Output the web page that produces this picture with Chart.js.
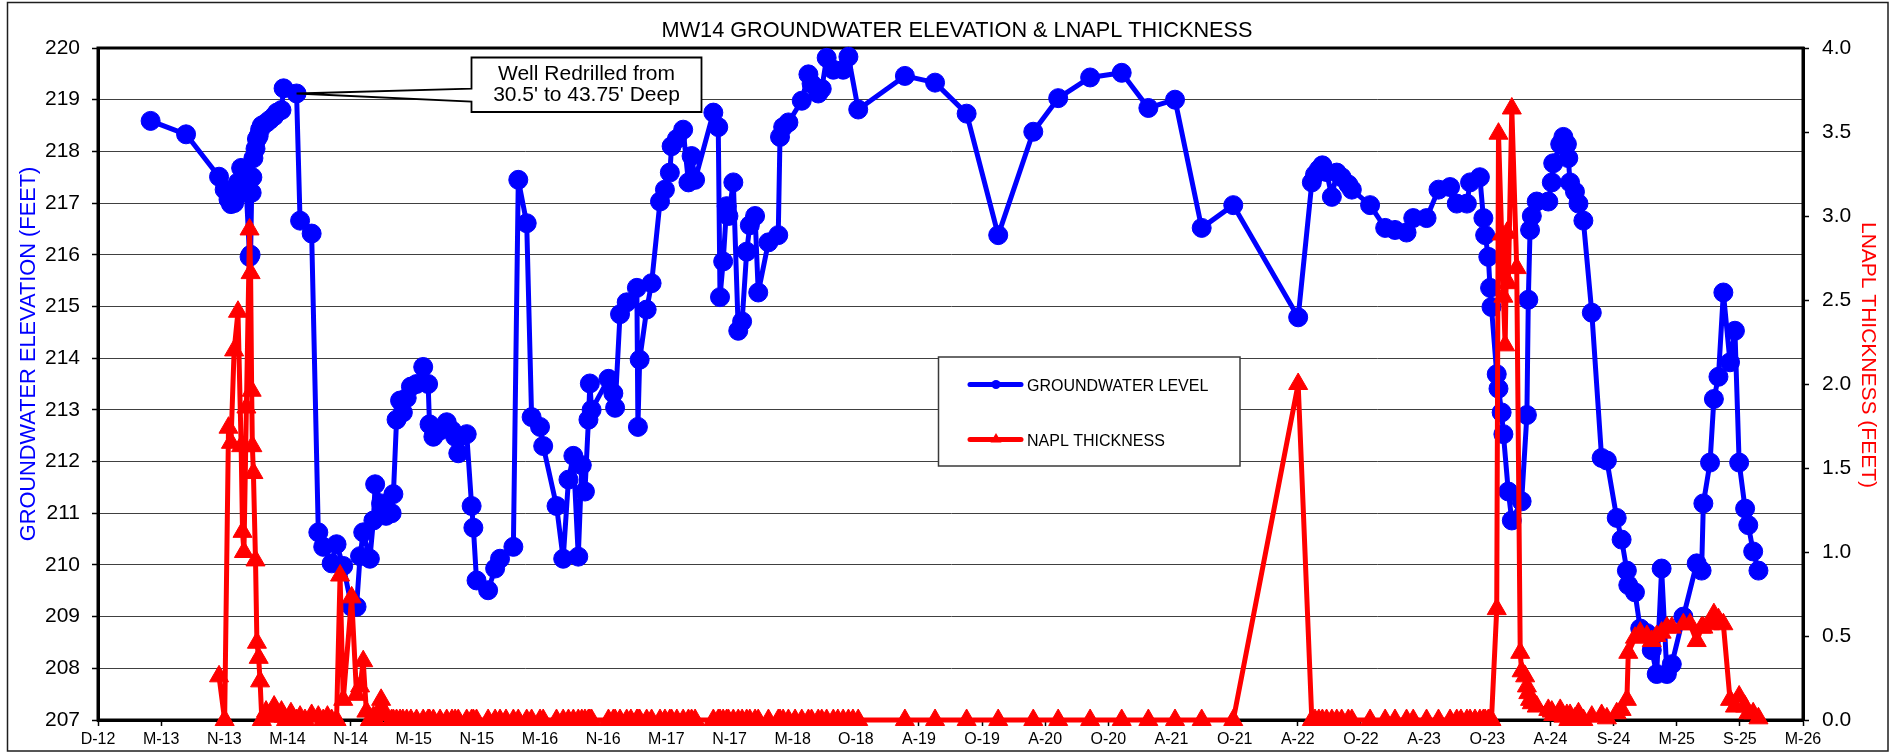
<!DOCTYPE html>
<html>
<head>
<meta charset="utf-8">
<title>MW14 Groundwater Elevation &amp; LNAPL Thickness</title>
<script src="https://cdn.jsdelivr.net/npm/chart.js@4.4.1/dist/chart.umd.min.js"></script>
<style>
  html, body { margin: 0; padding: 0; background: #ffffff; }
  canvas { display: block; }
</style>
</head>
<body>
<canvas id="mw14" width="1892" height="752"></canvas>
<script>
// ---- Monitoring record for well MW14 (one row per gauging event) ----
const sampleDates = [
  '2013-04-30','2013-08-09','2013-11-11','2013-11-27','2013-12-08','2013-12-15','2013-12-24','2014-01-04','2014-01-13','2014-01-17',
  '2014-01-21','2014-01-28','2014-02-06','2014-02-09','2014-02-12','2014-02-14','2014-02-17','2014-02-23','2014-02-27','2014-03-04',
  '2014-03-08','2014-03-13','2014-03-25','2014-04-05','2014-04-17','2014-04-25','2014-05-08','2014-05-14','2014-05-21','2014-06-04',
  '2014-06-20','2014-06-30','2014-07-14','2014-08-02','2014-08-21','2014-09-04','2014-09-16','2014-09-28','2014-10-12','2014-10-22',
  '2014-10-31','2014-11-24','2014-12-08','2014-12-18','2014-12-27','2015-01-05','2015-01-15','2015-01-25','2015-01-30','2015-02-09',
  '2015-02-16','2015-03-02','2015-03-18','2015-03-23','2015-04-01','2015-04-11','2015-04-19','2015-04-30','2015-05-12','2015-05-28',
  '2015-06-16','2015-06-30','2015-07-04','2015-07-15','2015-08-03','2015-08-22','2015-09-06','2015-09-15','2015-09-24','2015-10-18',
  '2015-11-01','2015-11-06','2015-11-15','2015-12-18','2016-01-07','2016-01-21','2016-02-07','2016-02-28','2016-03-13','2016-04-06',
  '2016-04-20','2016-05-14','2016-05-23','2016-06-30','2016-07-19','2016-08-03','2016-08-17','2016-08-31','2016-09-10','2016-09-19',
  '2016-09-29','2016-10-03','2016-10-08','2016-11-25','2016-12-09','2016-12-14','2016-12-28','2017-01-16','2017-01-28','2017-02-14',
  '2017-02-17','2017-02-22','2017-03-14','2017-03-28','2017-04-21','2017-05-05','2017-05-19','2017-05-24','2017-06-08','2017-06-26',
  '2017-07-11','2017-07-20','2017-07-30','2017-09-20','2017-10-04','2017-10-09','2017-10-18','2017-10-28','2017-11-02','2017-11-16',
  '2017-11-30','2017-12-11','2017-12-24','2018-01-02','2018-01-17','2018-01-26','2018-02-24','2018-03-24','2018-03-29','2018-04-07',
  '2018-04-22','2018-05-11','2018-05-30','2018-06-18','2018-06-27','2018-07-16','2018-07-26','2018-08-09','2018-08-28','2018-09-10',
  '2018-09-25','2018-10-10','2018-10-23','2018-11-07','2019-03-20','2019-06-14','2019-09-12','2019-12-11','2020-03-20','2020-05-30',
  '2020-08-29','2020-11-27','2021-02-11','2021-04-28','2021-07-13','2021-10-11','2022-04-14','2022-05-23','2022-06-01','2022-06-12',
  '2022-06-22','2022-07-04','2022-07-19','2022-08-02','2022-08-16','2022-09-04','2022-09-14','2022-11-05','2022-12-18','2023-01-15',
  '2023-02-17','2023-03-08','2023-04-15','2023-05-19','2023-06-21','2023-07-10','2023-07-22','2023-08-08','2023-08-17','2023-08-31',
  '2023-09-14','2023-09-24','2023-09-29','2023-10-08','2023-10-13','2023-10-17','2023-11-01','2023-11-06','2023-11-15','2023-11-20',
  '2023-11-25','2023-11-30','2023-12-04','2023-12-14','2023-12-28','2024-01-07','2024-01-11','2024-01-21','2024-01-26','2024-01-30',
  '2024-02-04','2024-02-09','2024-02-23','2024-03-27','2024-04-06','2024-04-10','2024-04-30','2024-05-09','2024-05-19','2024-05-23',
  '2024-05-28','2024-06-11','2024-06-21','2024-07-05','2024-07-29','2024-08-26','2024-09-10','2024-10-08','2024-10-22','2024-11-06',
  '2024-11-10','2024-11-29','2024-12-14','2025-01-02','2025-01-16','2025-01-30','2025-02-13','2025-02-28','2025-03-14','2025-04-16',
  '2025-05-05','2025-05-24','2025-06-07','2025-06-12','2025-07-01','2025-07-12','2025-07-25','2025-08-08','2025-08-27','2025-09-10',
  '2025-09-22','2025-10-09','2025-10-18','2025-11-01','2025-11-16'
];

// Groundwater elevation, feet (null = not gauged)
const gwElevation = [
  218.59,218.33,217.51,217.26,217.07,216.98,217.00,217.40,217.68,217.45,
  217.30,217.20,215.96,216.00,217.20,217.50,217.87,218.05,218.24,218.30,
  218.42,218.50,218.55,218.61,218.68,218.75,218.80,219.22,null,null,
  219.12,216.66,null,216.41,210.63,210.35,null,210.03,210.40,null,
  209.98,209.19,209.19,210.17,210.63,null,210.12,210.86,211.56,null,
  211.19,210.95,211.00,211.37,212.81,213.18,212.95,213.23,213.45,213.50,
  213.83,213.50,212.72,212.48,212.60,212.76,212.60,212.48,212.16,212.53,
  211.14,210.72,209.70,209.51,209.93,210.12,null,210.35,217.45,216.61,
  212.86,212.67,212.30,211.14,210.12,211.65,212.11,210.16,211.93,211.42,
  212.81,213.51,213.00,213.60,213.32,213.04,214.85,215.08,null,215.36,
  212.67,213.97,214.94,215.45,217.03,217.26,217.59,218.10,218.24,218.42,
  217.40,217.91,217.45,218.75,218.47,215.18,215.87,216.94,216.75,217.40,
  214.53,214.71,216.06,216.57,216.75,215.27,216.24,216.38,218.28,218.47,
  218.56,null,218.98,219.49,219.31,219.12,219.21,219.81,219.58,null,
  219.58,219.83,null,218.81,219.46,219.33,218.73,216.38,218.38,219.03,
  219.43,219.52,218.84,219.00,216.52,216.96,214.79,217.40,217.55,217.65,
  217.73,217.60,217.12,217.59,217.50,217.36,217.26,216.96,216.52,216.48,
  216.43,216.71,216.71,217.26,217.31,216.99,null,216.99,217.40,null,
  217.50,216.71,216.38,215.96,215.36,214.99,213.69,213.41,212.95,212.53,
  null,null,211.42,210.86,null,null,211.23,null,212.90,215.13,
  216.48,216.75,217.03,217.03,217.40,217.77,218.14,218.28,218.14,217.87,
  217.40,217.22,216.99,216.66,214.88,212.07,212.02,210.91,210.49,209.89,
  209.61,209.47,208.77,208.68,208.35,207.89,209.93,207.89,208.08,209.00,
  null,210.03,209.89,211.19,211.98,213.21,213.64,215.27,213.92,214.53,
  211.98,211.09,210.77,210.26,209.89
];

// Measured LNAPL thickness, feet (null = not measured)
const lnaplThickness = [
  null,null,0.26,0,1.74,1.65,2.20,2.43,1.63,1.12,
  1.00,1.86,2.92,2.66,1.96,1.63,1.47,0.95,0.46,0.37,
  0.23,0,0.05,0.02,0.08,0.03,0.05,0.02,0,0.04,
  0,0.02,0,0.03,0.02,0,0.02,0,0,0.86,
  0.12,0.73,0.15,0.20,0.35,0.05,0,0.02,0,0.05,
  0.12,0.03,0,0,0,0,0,0,0,0,
  0,0,0,0,0,0,0,0,0,0,
  0,0,0,0,0,0,0,0,0,0,
  0,0,0,0,0,0,0,0,0,0,
  0,0,0,0,0,0,0,0,0,0,
  0,0,0,0,0,0,0,0,0,0,
  0,0,0,0,0,0,0,0,0,0,
  0,0,0,0,0,0,0,0,0,0,
  0,0,0,0,0,0,0,0,0,0,
  0,0,0,0,0,0,0,0,0,0,
  0,0,0,0,0,0,2.00,0,0,0,
  0,0,0,0,0,0,0,0,0,0,
  0,0,0,0,0,0,0,0,0,0,
  0,0,0,0,0,0,0.66,3.49,2.89,2.52,
  2.23,2.90,2.60,3.64,2.69,0.40,0.29,0.26,0.20,0.16,
  0.12,0.10,0.08,0.06,0.05,0.03,0.06,0.02,0.03,0,
  0.03,0.01,0.04,0,0.02,0.03,0.01,0.04,0.06,0.12,
  0.40,0.49,0.52,0.50,0.47,0.50,0.52,0.55,0.55,0.57,
  0.57,0.47,0.55,0.55,0.57,0.63,0.60,0.57,0.12,0.08,
  0.14,0.08,0.04,0.04,0.01
];

// Date axis: labels every 180 days starting 1 Dec 2012
const xTickLabels = ['D-12','M-13','N-13','M-14','N-14','M-15','N-15','M-16','N-16','M-17','N-17','M-18','O-18','A-19',
                     'O-19','A-20','O-20','A-21','O-21','A-22','O-22','A-23','O-23','A-24','S-24','M-25','S-25','M-26'];
const AXIS_START = '2012-12-01';
const TICK_DAYS = 180;

const CHART_TITLE = 'MW14 GROUNDWATER ELEVATION & LNAPL THICKNESS';
const LEFT_AXIS_TITLE = 'GROUNDWATER ELEVATION (FEET)';
const RIGHT_AXIS_TITLE = 'LNAPL THICKNESS (FEET)';
const GW_LABEL = 'GROUNDWATER LEVEL';
const NAPL_LABEL = 'NAPL THICKNESS';
const NOTE_LINES = ['Well Redrilled from', "30.5' to 43.75' Deep"];
const REDRILL_DATE = '2014-06-20';

// ---- helpers ----
const FONT = '"Liberation Sans", Arial, Helvetica, sans-serif';
const BLUE = '#0000FF';
const RED = '#FF0000';

function toUTC(s) {
  const [y, m, d] = s.split('-').map(Number);
  return Date.UTC(y, m - 1, d);
}
const START_MS = toUTC(AXIS_START);
function dayOf(s) { return (toUTC(s) - START_MS) / 86400000; }

function series(values) {
  const pts = [];
  sampleDates.forEach((d, i) => {
    if (values[i] !== null && values[i] !== undefined) pts.push({ x: dayOf(d), y: values[i] });
  });
  return pts;
}

const gwSeries = series(gwElevation);
const naplSeries = series(lnaplThickness);

// ---- decorations drawn straight onto the canvas ----
const chartDecor = {
  id: 'chartDecor',
  beforeDraw(chart) {
    const { ctx } = chart;
    ctx.save();
    ctx.fillStyle = '#ffffff';
    ctx.fillRect(0, 0, chart.width, chart.height);
    // outer frame
    ctx.strokeStyle = '#1e1e1e';
    ctx.lineWidth = 1.5;
    ctx.strokeRect(7.5, 2.5, 1880.5, 748.5);
    // title
    ctx.font = '21.7px ' + FONT;
    ctx.fillStyle = '#000';
    ctx.textAlign = 'center';
    ctx.textBaseline = 'alphabetic';
    ctx.fillText(CHART_TITLE, 957, 37);
    // left axis title (reads bottom to top)
    ctx.save();
    ctx.font = '21.8px ' + FONT;
    ctx.translate(35, 354);
    ctx.rotate(-Math.PI / 2);
    ctx.fillStyle = BLUE;
    ctx.fillText(LEFT_AXIS_TITLE, 0, 0);
    ctx.restore();
    // right axis title (reads top to bottom)
    ctx.save();
    ctx.font = '21px ' + FONT;
    ctx.translate(1862, 355);
    ctx.rotate(Math.PI / 2);
    ctx.fillStyle = RED;
    ctx.fillText(RIGHT_AXIS_TITLE, 0, 0);
    ctx.restore();
    ctx.restore();
  },
  beforeDatasetsDraw(chart) {
    const { ctx, chartArea: a } = chart;
    ctx.save();
    ctx.strokeStyle = '#000';
    ctx.lineWidth = 3;
    ctx.strokeRect(a.left, a.top, a.right - a.left, a.bottom - a.top);
    ctx.restore();
  },
  afterDatasetsDraw(chart) {
    const { ctx } = chart;
    const xs = chart.scales.x, ys = chart.scales.y;

    // legend box
    ctx.save();
    ctx.fillStyle = '#ffffff';
    ctx.fillRect(938.5, 357, 301.5, 109);
    ctx.strokeStyle = '#3a3a3a';
    ctx.lineWidth = 1.5;
    ctx.strokeRect(938.5, 357, 301.5, 109);
    ctx.lineCap = 'round';
    ctx.lineWidth = 5;
    ctx.strokeStyle = BLUE;
    ctx.beginPath(); ctx.moveTo(970, 384.5); ctx.lineTo(1021, 384.5); ctx.stroke();
    ctx.fillStyle = BLUE;
    ctx.beginPath(); ctx.arc(996, 384.5, 4.5, 0, Math.PI * 2); ctx.fill();
    ctx.strokeStyle = RED;
    ctx.beginPath(); ctx.moveTo(970, 439.5); ctx.lineTo(1021, 439.5); ctx.stroke();
    ctx.fillStyle = RED;
    ctx.beginPath(); ctx.moveTo(996, 433); ctx.lineTo(1001.5, 442.5); ctx.lineTo(990.5, 442.5); ctx.closePath(); ctx.fill();
    ctx.fillStyle = '#000';
    ctx.font = '16px ' + FONT;
    ctx.textAlign = 'left';
    ctx.textBaseline = 'alphabetic';
    ctx.fillText(GW_LABEL, 1027, 390.5);
    ctx.fillText(NAPL_LABEL, 1027, 445.5);
    ctx.restore();

    // callout pointing at the redrill event
    const idx = sampleDates.indexOf(REDRILL_DATE);
    const tipX = xs.getPixelForValue(dayOf(REDRILL_DATE));
    const tipY = ys.getPixelForValue(gwElevation[idx]);
    const bx0 = 471.5, by0 = 57.5, bx1 = 701.5, by1 = 112;
    ctx.save();
    ctx.beginPath();
    ctx.moveTo(bx0, by0);
    ctx.lineTo(bx1, by0);
    ctx.lineTo(bx1, by1);
    ctx.lineTo(bx0, by1);
    ctx.lineTo(bx0, 101.7);
    ctx.lineTo(tipX, tipY);
    ctx.lineTo(bx0, 88.7);
    ctx.closePath();
    ctx.fillStyle = '#ffffff';
    ctx.fill();
    ctx.strokeStyle = '#000';
    ctx.lineWidth = 1.8;
    ctx.lineJoin = 'miter';
    ctx.stroke();
    ctx.fillStyle = '#000';
    ctx.font = '21px ' + FONT;
    ctx.textAlign = 'center';
    ctx.textBaseline = 'alphabetic';
    ctx.fillText(NOTE_LINES[0], (bx0 + bx1) / 2, 79.5);
    ctx.fillText(NOTE_LINES[1], (bx0 + bx1) / 2, 100.5);
    ctx.restore();
  }
};

const tickFont = { family: FONT, size: 21 };

new Chart(document.getElementById('mw14'), {
  type: 'line',
  data: {
    datasets: [
      {
        label: GW_LABEL,
        data: gwSeries,
        yAxisID: 'y',
        borderColor: BLUE,
        backgroundColor: BLUE,
        borderWidth: 5,
        borderJoinStyle: 'round',
        borderCapStyle: 'round',
        pointStyle: 'circle',
        pointRadius: 9.5,
        pointBorderWidth: 1,
        pointBackgroundColor: BLUE,
        pointBorderColor: BLUE,
        tension: 0,
        fill: false,
        clip: false,
        order: 2
      },
      {
        label: NAPL_LABEL,
        data: naplSeries,
        yAxisID: 'y1',
        borderColor: RED,
        backgroundColor: RED,
        borderWidth: 5,
        borderJoinStyle: 'round',
        borderCapStyle: 'round',
        pointStyle: 'triangle',
        pointRadius: 11,
        pointBorderWidth: 1,
        pointBackgroundColor: RED,
        pointBorderColor: RED,
        tension: 0,
        fill: false,
        clip: false,
        order: 1
      }
    ]
  },
  options: {
    responsive: false,
    devicePixelRatio: 1,
    animation: false,
    events: [],
    layout: { padding: { top: 48, left: 0, right: 0, bottom: 0 } },
    plugins: {
      legend: { display: false },
      tooltip: { enabled: false },
      title: { display: false }
    },
    scales: {
      x: {
        type: 'linear',
        position: 'bottom',
        min: 0,
        max: TICK_DAYS * (xTickLabels.length - 1),
        afterBuildTicks(scale) {
          scale.ticks = xTickLabels.map((_, i) => ({ value: i * TICK_DAYS }));
        },
        afterFit(scale) { scale.height = 32; },
        ticks: {
          callback: (v, i) => xTickLabels[i],
          autoSkip: false,
          maxRotation: 0,
          minRotation: 0,
          padding: 4,
          color: '#000',
          font: { family: FONT, size: 16 }
        },
        grid: { drawOnChartArea: false, drawTicks: true, tickLength: 6, tickColor: '#000', tickWidth: 1.5 },
        border: { display: true, color: '#000', width: 3 }
      },
      y: {
        type: 'linear',
        position: 'left',
        min: 207,
        max: 220,
        afterFit(scale) { scale.width = 98; },
        ticks: { stepSize: 1, padding: 12, color: '#000', font: tickFont },
        grid: { color: '#404040', lineWidth: 1, drawTicks: true, tickLength: 6, tickColor: '#000', tickWidth: 1.5 },
        border: { display: true, color: '#000', width: 3 }
      },
      y1: {
        type: 'linear',
        position: 'right',
        min: 0,
        max: 4,
        afterFit(scale) { scale.width = 89; },
        ticks: { stepSize: 0.5, padding: 13, color: '#000', font: tickFont, callback: v => Number(v).toFixed(1) },
        grid: { drawOnChartArea: false, drawTicks: true, tickLength: 6, tickColor: '#000', tickWidth: 1.5 },
        border: { display: true, color: '#000', width: 3 }
      }
    }
  },
  plugins: [chartDecor]
});
</script>
</body>
</html>
